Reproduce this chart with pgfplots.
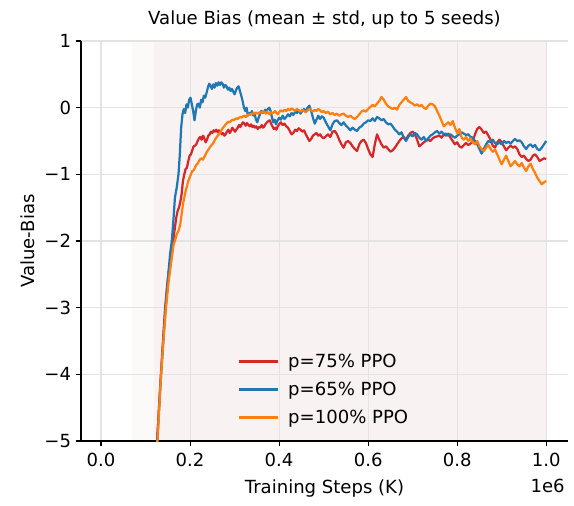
\documentclass[border=0pt]{standalone}
\usepackage{fontspec}
\setmainfont{DejaVu Sans}
\usepackage{pgfplots}
\pgfplotsset{compat=1.18}
\definecolor{cred}{HTML}{D62728}
\definecolor{cblue}{HTML}{1F77B4}
\definecolor{corange}{HTML}{FF7F0E}
\definecolor{bgpink}{RGB}{247,238,238}
\newcommand\f{\fontsize{13}{15.5}\selectfont}
\begin{document}
\begin{tikzpicture}
\begin{axis}[
  set layers,
  at={(0,0)}, anchor=south west,
  scale only axis, width=350.6pt, height=288pt,
  xmin=-0.045, xmax=1.049, ymin=-5, ymax=1,
  axis x line*=bottom, axis y line*=left,
  axis line style={black, line width=0.8pt},
  tick align=outside, major tick length=3.6pt,
  tick style={black, line width=0.8pt},
  xtick={0,0.2,0.4,0.6,0.8,1.0},
  xticklabels={0.0,0.2,0.4,0.6,0.8,1.0},
  ytick={-5,-4,-3,-2,-1,0,1},
  yticklabels={−5,−4,−3,−2,−1,0,1},
  ticklabel style={font=\f},
  xticklabel style={yshift=-1.5pt},
  grid=major, major grid style={draw=black!11, line width=0.8pt},
  title={Value Bias (mean ± std, up to 5 seeds)},
  title style={font=\f, at={(0.5,1)}, anchor=base, yshift=5.8pt},
  xlabel={Training Steps (K)},
  xlabel style={font=\f, at={(axis description cs:0.5,0)}, anchor=base, yshift=-37.4pt},
  ylabel={Value-Bias},
  ylabel style={font=\f, at={(axis description cs:-0.11,0.5)}, anchor=center},
  legend style={at={(0.5,0.025)}, anchor=south, draw=none, fill=none, font=\f, row sep=5pt},
  legend cell align=left,
  legend image code/.code={\draw[#1, line width=1.6pt] (0pt,0pt) -- (28pt,0pt);},
  every axis plot/.append style={line width=1.6pt, line join=round},
]
\addplot[on layer=axis background, draw=none, fill=bgpink, opacity=0.35, forget plot] coordinates {(0.07,-5) (0.12,-5) (0.12,1) (0.07,1)};
\addplot[on layer=axis background, draw=none, fill=bgpink, opacity=0.75, forget plot] coordinates {(0.12,-5) (1.0,-5) (1.0,1) (0.12,1)};

\addplot[cred] coordinates {
(0.110,-6.3) (0.126,-5.0) (0.134,-4.05) (0.140,-3.4) (0.144,-3.0) (0.148,-2.7) (0.152,-2.45) (0.156,-2.3) (0.160,-2.1) (0.163,-1.95)
(0.166,-1.8) (0.169,-1.65) (0.172,-1.55) (0.175,-1.5) (0.178,-1.42) (0.181,-1.3) (0.184,-1.1) (0.187,-1.0) (0.190,-0.92) (0.193,-0.90)
(0.196,-0.80) (0.199,-0.72) (0.202,-0.70) (0.205,-0.64) (0.208,-0.58) (0.211,-0.57) (0.214,-0.55) (0.217,-0.50) (0.220,-0.46) (0.223,-0.44)
(0.226,-0.48) (0.229,-0.42) (0.232,-0.46) (0.235,-0.52) (0.238,-0.48) (0.241,-0.42) (0.244,-0.40) (0.247,-0.36) (0.250,-0.38) (0.253,-0.34)
(0.256,-0.36) (0.259,-0.33) (0.262,-0.37) (0.265,-0.34) (0.268,-0.36) (0.271,-0.40) (0.274,-0.38) (0.277,-0.42) (0.280,-0.40) (0.283,-0.36)
(0.286,-0.33) (0.289,-0.38) (0.292,-0.35) (0.295,-0.30) (0.298,-0.33) (0.301,-0.36) (0.304,-0.33) (0.307,-0.30) (0.310,-0.26) (0.313,-0.29)
(0.316,-0.25) (0.319,-0.22) (0.322,-0.24) (0.325,-0.27) (0.328,-0.23) (0.331,-0.26) (0.334,-0.28) (0.337,-0.25) (0.340,-0.29) (0.343,-0.27)
(0.346,-0.30) (0.349,-0.28) (0.352,-0.32) (0.355,-0.29) (0.358,-0.30) (0.361,-0.26) (0.364,-0.30) (0.367,-0.28) (0.370,-0.24) (0.373,-0.22)
(0.376,-0.20) (0.379,-0.19) (0.382,-0.24) (0.385,-0.28) (0.388,-0.32) (0.391,-0.30) (0.394,-0.33) (0.397,-0.28) (0.400,-0.25) (0.404,-0.22)
(0.408,-0.26) (0.412,-0.24) (0.416,-0.28) (0.420,-0.30) (0.424,-0.35) (0.428,-0.40) (0.432,-0.38) (0.436,-0.33) (0.440,-0.35) (0.444,-0.31)
(0.448,-0.33) (0.452,-0.36) (0.456,-0.34) (0.460,-0.40) (0.464,-0.45) (0.468,-0.50) (0.472,-0.47) (0.476,-0.42) (0.480,-0.40) (0.484,-0.38)
(0.488,-0.42) (0.492,-0.40) (0.496,-0.44) (0.500,-0.46) (0.505,-0.43) (0.510,-0.40) (0.515,-0.44) (0.520,-0.36) (0.525,-0.35) (0.530,-0.40)
(0.535,-0.48) (0.540,-0.55) (0.545,-0.60) (0.550,-0.52) (0.555,-0.50) (0.560,-0.53) (0.565,-0.58) (0.570,-0.62) (0.575,-0.65) (0.580,-0.55)
(0.585,-0.50) (0.590,-0.48) (0.595,-0.53) (0.600,-0.62) (0.605,-0.70) (0.610,-0.74) (0.615,-0.55) (0.620,-0.40) (0.625,-0.48) (0.630,-0.55)
(0.635,-0.60) (0.640,-0.58) (0.645,-0.62) (0.650,-0.66) (0.655,-0.64) (0.660,-0.60) (0.665,-0.55) (0.670,-0.50) (0.675,-0.46) (0.680,-0.44)
(0.685,-0.48) (0.690,-0.42) (0.695,-0.38) (0.700,-0.36) (0.705,-0.40) (0.710,-0.48) (0.715,-0.58) (0.720,-0.55) (0.725,-0.52) (0.730,-0.50)
(0.735,-0.48) (0.740,-0.50) (0.745,-0.46) (0.750,-0.44) (0.755,-0.43) (0.760,-0.42) (0.765,-0.45) (0.770,-0.40) (0.775,-0.42) (0.780,-0.39)
(0.785,-0.45) (0.790,-0.50) (0.795,-0.55) (0.800,-0.52) (0.805,-0.58) (0.810,-0.60) (0.815,-0.56) (0.820,-0.53) (0.825,-0.56) (0.830,-0.54)
(0.835,-0.50) (0.840,-0.40) (0.845,-0.32) (0.850,-0.29) (0.855,-0.33) (0.860,-0.38) (0.865,-0.36) (0.870,-0.42) (0.875,-0.48) (0.880,-0.57)
(0.885,-0.60) (0.890,-0.52) (0.895,-0.48) (0.900,-0.52) (0.905,-0.58) (0.910,-0.64) (0.915,-0.60) (0.920,-0.57) (0.925,-0.60) (0.930,-0.58)
(0.935,-0.62) (0.940,-0.70) (0.945,-0.74) (0.950,-0.72) (0.955,-0.77) (0.960,-0.80) (0.965,-0.78) (0.970,-0.72) (0.975,-0.70) (0.980,-0.74)
(0.985,-0.80) (0.990,-0.78) (0.995,-0.76) (1.000,-0.77)
};
\addlegendentry{\hspace{4.5pt}p=75\% PPO}

\addplot[cblue] coordinates {
(0.110,-6.2) (0.126,-5.0) (0.134,-4.1) (0.140,-3.5) (0.145,-3.0) (0.150,-2.6) (0.155,-2.2) (0.159,-2.0) (0.163,-1.65) (0.166,-1.35)
(0.170,-1.2) (0.174,-1.0) (0.177,-0.7) (0.180,-0.3) (0.183,-0.1) (0.186,-0.02) (0.189,-0.08) (0.192,0.05) (0.195,0.0) (0.198,0.12)
(0.201,0.15) (0.204,0.05) (0.207,-0.05) (0.210,-0.19) (0.213,-0.05) (0.216,0.05) (0.219,0.06) (0.222,0.0) (0.225,0.12) (0.228,0.08)
(0.231,0.18) (0.234,0.15) (0.237,0.22) (0.240,0.30) (0.243,0.36) (0.246,0.33) (0.249,0.28) (0.252,0.35) (0.255,0.30) (0.258,0.37)
(0.261,0.33) (0.264,0.38) (0.267,0.34) (0.270,0.38) (0.273,0.36) (0.276,0.30) (0.279,0.34) (0.282,0.32) (0.285,0.27) (0.288,0.30)
(0.291,0.25) (0.294,0.28) (0.297,0.24) (0.300,0.20) (0.303,0.26) (0.306,0.30) (0.309,0.32) (0.312,0.25) (0.315,0.18) (0.318,0.10)
(0.321,0.0) (0.324,-0.05) (0.327,0.0) (0.330,-0.12) (0.333,-0.08) (0.336,-0.10) (0.339,-0.05) (0.342,-0.12) (0.345,-0.08) (0.348,-0.18)
(0.351,-0.22) (0.354,-0.15) (0.357,-0.10) (0.360,-0.05) (0.363,-0.08) (0.366,-0.06) (0.369,-0.03) (0.372,-0.05) (0.375,-0.02) (0.378,0.0)
(0.381,-0.05) (0.384,-0.15) (0.387,-0.22) (0.390,-0.18) (0.393,-0.25) (0.396,-0.20) (0.400,-0.15) (0.404,-0.18) (0.408,-0.12) (0.412,-0.17)
(0.416,-0.14) (0.420,-0.10) (0.424,-0.13) (0.428,-0.08) (0.432,-0.11) (0.436,-0.06) (0.440,-0.08) (0.444,-0.04) (0.448,-0.09) (0.452,-0.05)
(0.456,-0.02) (0.460,-0.06) (0.464,0.0) (0.468,0.03) (0.472,-0.05) (0.476,-0.15) (0.480,-0.24) (0.484,-0.18) (0.488,-0.12) (0.492,-0.17)
(0.496,-0.13) (0.500,-0.15) (0.505,-0.22) (0.510,-0.28) (0.515,-0.34) (0.520,-0.25) (0.525,-0.20) (0.530,-0.19) (0.535,-0.23) (0.540,-0.26)
(0.545,-0.22) (0.550,-0.27) (0.555,-0.30) (0.560,-0.34) (0.565,-0.30) (0.570,-0.33) (0.575,-0.35) (0.580,-0.30) (0.585,-0.28) (0.590,-0.24)
(0.595,-0.22) (0.600,-0.19) (0.605,-0.20) (0.610,-0.16) (0.615,-0.20) (0.620,-0.14) (0.625,-0.16) (0.630,-0.19) (0.635,-0.17) (0.640,-0.22)
(0.645,-0.25) (0.650,-0.24) (0.655,-0.28) (0.660,-0.33) (0.665,-0.36) (0.670,-0.40) (0.675,-0.37) (0.680,-0.45) (0.685,-0.50) (0.690,-0.44)
(0.695,-0.40) (0.700,-0.43) (0.705,-0.38) (0.710,-0.40) (0.715,-0.45) (0.720,-0.48) (0.725,-0.44) (0.730,-0.50) (0.735,-0.46) (0.740,-0.42)
(0.745,-0.40) (0.750,-0.37) (0.755,-0.35) (0.760,-0.39) (0.765,-0.36) (0.770,-0.40) (0.775,-0.39) (0.780,-0.42) (0.785,-0.40) (0.790,-0.43)
(0.795,-0.45) (0.800,-0.42) (0.805,-0.40) (0.810,-0.37) (0.815,-0.39) (0.820,-0.41) (0.825,-0.40) (0.830,-0.44) (0.835,-0.45) (0.840,-0.50)
(0.845,-0.55) (0.850,-0.62) (0.855,-0.69) (0.860,-0.62) (0.865,-0.55) (0.870,-0.50) (0.875,-0.52) (0.880,-0.48) (0.885,-0.53) (0.890,-0.55)
(0.895,-0.52) (0.900,-0.55) (0.905,-0.50) (0.910,-0.53) (0.915,-0.51) (0.920,-0.54) (0.925,-0.50) (0.930,-0.47) (0.935,-0.50) (0.940,-0.49)
(0.945,-0.52) (0.950,-0.58) (0.955,-0.62) (0.960,-0.57) (0.965,-0.55) (0.970,-0.59) (0.975,-0.56) (0.980,-0.62) (0.985,-0.64) (0.990,-0.60)
(0.995,-0.55) (1.000,-0.50)
};
\addlegendentry{\hspace{4.5pt}p=65\% PPO}

\addplot[corange] coordinates {
(0.110,-6.4) (0.127,-5.0) (0.134,-4.1) (0.140,-3.5) (0.146,-3.0) (0.152,-2.6) (0.158,-2.3) (0.163,-2.05) (0.166,-2.0) (0.170,-1.9)
(0.174,-1.85) (0.178,-1.75) (0.181,-1.6) (0.184,-1.45) (0.187,-1.35) (0.190,-1.25) (0.193,-1.18) (0.196,-1.10) (0.199,-1.05) (0.202,-1.0)
(0.205,-0.95) (0.208,-0.94) (0.211,-0.90) (0.214,-0.86) (0.217,-0.84) (0.220,-0.80) (0.223,-0.77) (0.226,-0.76) (0.229,-0.78) (0.232,-0.74)
(0.235,-0.70) (0.238,-0.66) (0.241,-0.63) (0.244,-0.60) (0.247,-0.57) (0.250,-0.55) (0.253,-0.52) (0.256,-0.48) (0.259,-0.45) (0.262,-0.42)
(0.265,-0.40) (0.268,-0.37) (0.271,-0.33) (0.274,-0.30) (0.277,-0.28) (0.280,-0.25) (0.283,-0.23) (0.286,-0.21) (0.289,-0.22) (0.292,-0.20)
(0.295,-0.18) (0.298,-0.19) (0.301,-0.17) (0.304,-0.16) (0.307,-0.17) (0.310,-0.15) (0.313,-0.14) (0.316,-0.15) (0.319,-0.13) (0.322,-0.12)
(0.325,-0.14) (0.328,-0.12) (0.331,-0.10) (0.334,-0.11) (0.337,-0.09) (0.340,-0.10) (0.343,-0.08) (0.346,-0.09) (0.349,-0.07) (0.352,-0.09)
(0.355,-0.08) (0.358,-0.06) (0.361,-0.08) (0.364,-0.05) (0.367,-0.07) (0.370,-0.09) (0.373,-0.06) (0.376,-0.08) (0.379,-0.10) (0.382,-0.07)
(0.385,-0.09) (0.388,-0.07) (0.391,-0.05) (0.394,-0.08) (0.397,-0.10) (0.400,-0.07) (0.404,-0.04) (0.408,-0.06) (0.412,-0.03) (0.416,-0.05)
(0.420,-0.02) (0.424,-0.04) (0.428,-0.01) (0.432,-0.03) (0.436,-0.05) (0.440,-0.02) (0.444,-0.04) (0.448,-0.06) (0.452,-0.03) (0.456,-0.05)
(0.460,-0.07) (0.464,-0.04) (0.468,-0.02) (0.472,-0.04) (0.476,-0.06) (0.480,-0.03) (0.484,-0.05) (0.488,-0.02) (0.492,-0.04) (0.496,-0.07)
(0.500,-0.05) (0.505,-0.08) (0.510,-0.06) (0.515,-0.10) (0.520,-0.08) (0.525,-0.11) (0.530,-0.09) (0.535,-0.12) (0.540,-0.10) (0.545,-0.09)
(0.550,-0.12) (0.555,-0.14) (0.560,-0.12) (0.565,-0.15) (0.570,-0.17) (0.575,-0.14) (0.580,-0.10) (0.585,-0.06) (0.590,-0.04) (0.595,-0.06)
(0.600,-0.02) (0.605,0.01) (0.610,0.04) (0.615,0.02) (0.620,0.06) (0.625,0.10) (0.630,0.16) (0.635,0.12) (0.640,0.06) (0.645,0.02)
(0.650,0.0) (0.655,-0.02) (0.660,0.0) (0.665,-0.03) (0.670,0.04) (0.675,0.08) (0.680,0.12) (0.685,0.16) (0.690,0.10) (0.695,0.08)
(0.700,0.06) (0.705,0.03) (0.710,0.05) (0.715,0.02) (0.720,0.04) (0.725,0.0) (0.730,-0.02) (0.735,0.03) (0.740,0.06) (0.745,0.05)
(0.750,0.02) (0.755,-0.05) (0.760,-0.12) (0.765,-0.20) (0.770,-0.28) (0.775,-0.25) (0.780,-0.22) (0.785,-0.26) (0.790,-0.20) (0.795,-0.30)
(0.800,-0.38) (0.805,-0.32) (0.810,-0.45) (0.815,-0.48) (0.820,-0.44) (0.825,-0.50) (0.830,-0.46) (0.835,-0.52) (0.840,-0.55) (0.845,-0.50)
(0.850,-0.58) (0.855,-0.62) (0.860,-0.65) (0.865,-0.60) (0.870,-0.56) (0.875,-0.62) (0.880,-0.66) (0.885,-0.63) (0.890,-0.70) (0.895,-0.78)
(0.900,-0.85) (0.905,-0.78) (0.910,-0.72) (0.915,-0.80) (0.920,-0.88) (0.925,-0.84) (0.930,-0.80) (0.935,-0.85) (0.940,-0.88) (0.945,-0.83)
(0.950,-0.90) (0.955,-0.95) (0.960,-0.88) (0.965,-0.84) (0.970,-0.92) (0.975,-0.98) (0.980,-1.05) (0.985,-1.10) (0.990,-1.15) (0.995,-1.12)
(1.000,-1.10)
};
\addlegendentry{\hspace{4.5pt}p=100\% PPO}
\end{axis}
\node[font=\f, anchor=base east, inner sep=0pt] at (348.4pt,-36.7pt) {1e6};
\pgfresetboundingbox
\path[use as bounding box] (-58.3pt,-46.1pt) rectangle (354.9pt,317.5pt);
\end{tikzpicture}
\end{document}
